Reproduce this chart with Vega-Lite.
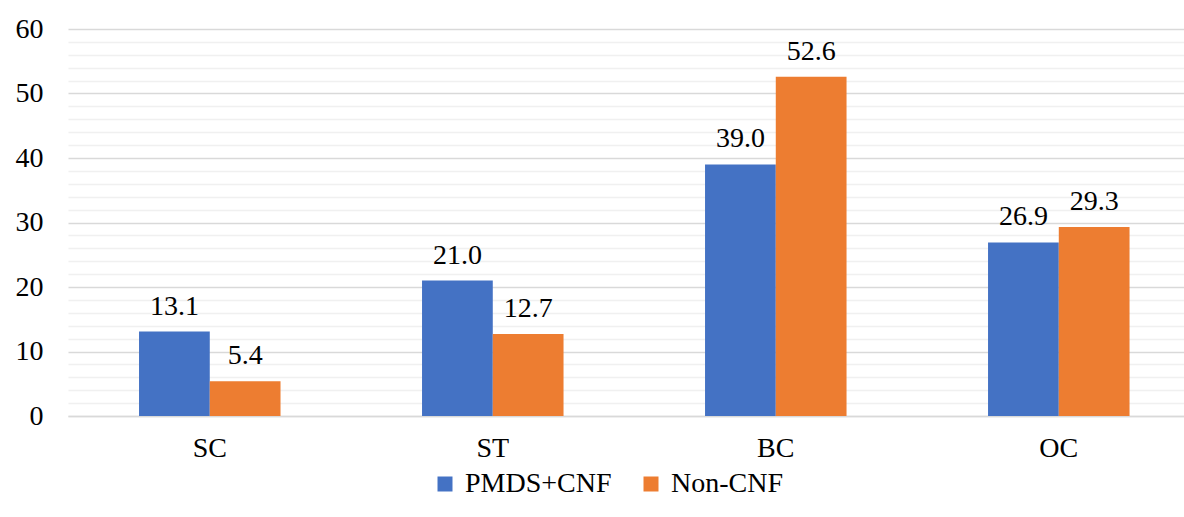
{
  "$schema": "https://vega.github.io/schema/vega-lite/v6.json",
  "width": 1116,
  "height": 387,
  "autosize": {"type": "none"},
  "padding": {"left": 68, "top": 29, "right": 0, "bottom": 101},
  "background": "#ffffff",
  "config": {
    "font": "Liberation Serif",
    "view": {"stroke": null}
  },
  "data": {
    "values": [
      {"group": "SC", "series": "PMDS+CNF", "value": 13.1},
      {"group": "SC", "series": "Non-CNF", "value": 5.4},
      {"group": "ST", "series": "PMDS+CNF", "value": 21.0},
      {"group": "ST", "series": "Non-CNF", "value": 12.7},
      {"group": "BC", "series": "PMDS+CNF", "value": 39.0},
      {"group": "BC", "series": "Non-CNF", "value": 52.6},
      {"group": "OC", "series": "PMDS+CNF", "value": 26.9},
      {"group": "OC", "series": "Non-CNF", "value": 29.3}
    ]
  },
  "encoding": {
    "x": {
      "field": "group",
      "type": "nominal",
      "sort": ["SC", "ST", "BC", "OC"],
      "scale": {"paddingInner": 0.5, "paddingOuter": 0.2217, "align": 0.566},
      "axis": {
        "title": null,
        "labelAngle": 0,
        "labelFont": "Liberation Serif",
        "labelFontSize": 28,
        "labelColor": "#000000",
        "labelPadding": 18,
        "ticks": false,
        "domainColor": "#d9d9d9",
        "domainWidth": 1.5,
        "grid": false
      }
    },
    "xOffset": {
      "field": "series",
      "type": "nominal",
      "sort": ["PMDS+CNF", "Non-CNF"],
      "scale": {"paddingInner": 0, "paddingOuter": 0}
    },
    "y": {
      "field": "value",
      "type": "quantitative",
      "scale": {"domain": [0, 60], "nice": false},
      "axis": {
        "title": null,
        "values": [0, 2, 4, 6, 8, 10, 12, 14, 16, 18, 20, 22, 24, 26, 28, 30, 32, 34, 36, 38, 40, 42, 44, 46, 48, 50, 52, 54, 56, 58, 60],
        "labelExpr": "datum.value % 10 === 0 ? datum.label : ''",
        "labelFont": "Liberation Serif",
        "labelFontSize": 28,
        "labelColor": "#000000",
        "labelPadding": 25,
        "ticks": false,
        "domain": false,
        "grid": true,
        "gridColor": {"condition": {"test": "datum.value % 10 === 0", "value": "#d9d9d9"}, "value": "#f0f0f0"},
        "gridWidth": 1.5
      }
    }
  },
  "layer": [
    {
      "mark": {"type": "bar"},
      "encoding": {
        "color": {
          "field": "series",
          "type": "nominal",
          "sort": ["PMDS+CNF", "Non-CNF"],
          "scale": {"domain": ["PMDS+CNF", "Non-CNF"], "range": ["#4472C4", "#ED7D31"]},
          "legend": {
            "title": null,
            "orient": "none",
            "direction": "horizontal",
            "legendX": 363,
            "legendY": 441,
            "symbolType": "square",
            "symbolSize": 225,
            "symbolStrokeWidth": 0,
            "labelFont": "Liberation Serif",
            "labelFontSize": 28,
            "labelLimit": 400,
            "labelColor": "#000000",
            "labelOffset": 6,
            "columnPadding": 25
          }
        }
      }
    },
    {
      "mark": {"type": "text", "baseline": "alphabetic", "dy": -17, "fontSize": 28, "color": "#000000", "font": "Liberation Serif"},
      "encoding": {
        "text": {"field": "value", "type": "quantitative", "format": ".1f"}
      }
    }
  ]
}
